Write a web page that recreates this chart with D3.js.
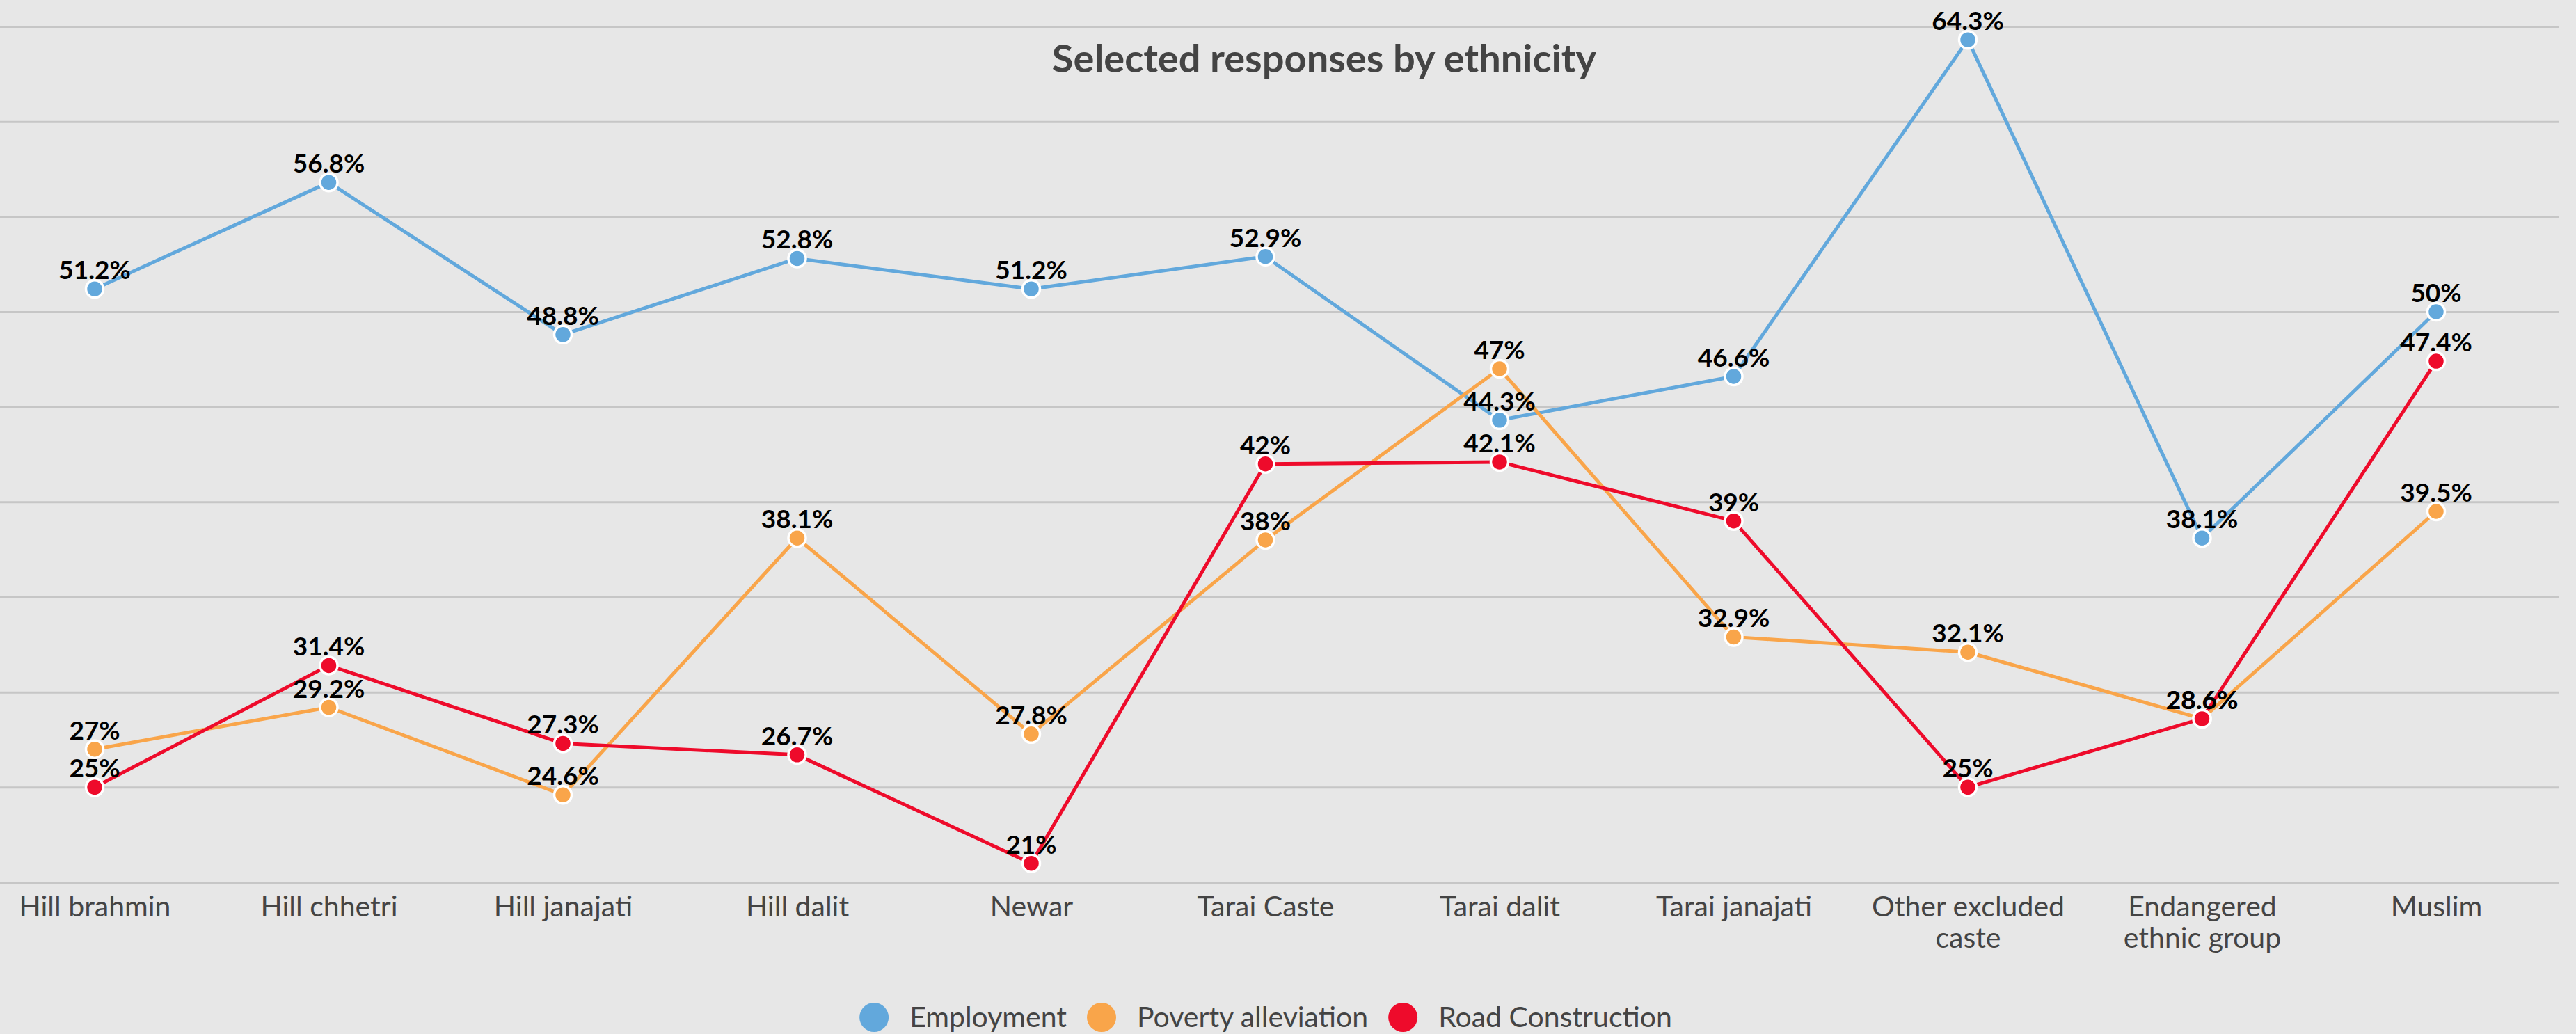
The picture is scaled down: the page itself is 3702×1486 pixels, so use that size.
<!DOCTYPE html>
<html><head><meta charset="utf-8">
<script src="https://cdn.jsdelivr.net/npm/d3@7"></script>
<style>html,body{margin:0;padding:0;background:#e7e7e7;}svg{display:block;}</style>
</head><body>
<svg id="chart" width="3702" height="1486"></svg>
<script>
const title = "Selected responses by ethnicity";
const categories = ["Hill brahmin","Hill chhetri","Hill janajati","Hill dalit","Newar","Tarai Caste","Tarai dalit","Tarai janajati","Other excluded caste","Endangered ethnic group","Muslim"];
const employment = [51.2,56.8,48.8,52.8,51.2,52.9,44.3,46.6,64.3,38.1,50];
const poverty = [27,29.2,24.6,38.1,27.8,38,47,32.9,32.1,28.6,39.5];
const road = [25,31.4,27.3,26.7,21,42,42.1,39,25,28.6,47.4];
const yTicks = [20,25,30,35,40,45,50,55,60,65];
const seriesNames = ["Employment","Poverty alleviation","Road Construction"];
const seriesColors = ["#62a8dc","#f9a54a","#ee0b2b"];

const W = 3702, H = 1486;
const svg = d3.select("#chart");
svg.append("rect").attr("width",W).attr("height",H).attr("fill","#e7e7e7");

const x = d3.scalePoint().domain(categories).range([136,3501]);
const y = d3.scaleLinear().domain([20,65]).range([1268,38]);

// gridlines
const gAxisY = svg.append("g")
  .call(d3.axisRight(y).tickValues(yTicks).tickSize(3677).tickFormat(""));
gAxisY.select(".domain").remove();
gAxisY.selectAll(".tick line").attr("stroke","#c6c6c6").attr("stroke-width",3);

// title
svg.append("text").attr("x",1903).attr("y",104).attr("text-anchor","middle")
  .attr("font-family","Lato, 'Open Sans', sans-serif").attr("font-weight",700)
  .attr("font-size",56).attr("fill","#444").text(title);

// x axis labels
const gx = svg.append("g").attr("transform","translate(0,1268)")
  .call(d3.axisBottom(x).tickSize(0).tickPadding(0));
gx.select(".domain").remove();
gx.selectAll(".tick text").remove();
gx.selectAll(".tick").each(function(d){
  const t = d3.select(this).append("text").attr("text-anchor","middle")
    .attr("font-family","Lato, 'Open Sans', sans-serif").attr("font-size",41)
    .attr("fill","#444").attr("y",49);
  const words = d.split(" ");
  let line = [];
  let tspan = t.append("tspan").attr("x",0).attr("dy",0);
  words.forEach(w=>{
    line.push(w);
    tspan.text(line.join(" "));
    if (tspan.node().getComputedTextLength() > 320 && line.length>1){
      line.pop(); tspan.text(line.join(" "));
      line=[w];
      tspan = t.append("tspan").attr("x",0).attr("dy",45).text(w);
    }
  });
});

const series = [employment, poverty, road];
const line = d3.line().x((d,i)=>x(categories[i])).y(d=>y(d));
series.forEach((vals,si)=>{
  const g = svg.append("g");
  g.append("path").datum(vals).attr("d",line).attr("fill","none")
    .attr("stroke",seriesColors[si]).attr("stroke-width",5).attr("stroke-linejoin","round");
  g.selectAll("circle").data(vals).join("circle")
    .attr("cx",(d,i)=>x(categories[i])).attr("cy",d=>y(d)).attr("r",12.5)
    .attr("fill",seriesColors[si]).attr("stroke","#fff").attr("stroke-width",3.5);
});
series.forEach((vals,si)=>{
  svg.append("g").selectAll("text").data(vals).join("text")
    .attr("x",(d,i)=>x(categories[i])).attr("y",d=>y(d)-14)
    .attr("text-anchor","middle").attr("font-family","Lato, 'Open Sans', sans-serif")
    .attr("font-weight",700).attr("font-size",37).attr("fill","#000")
    .text(d=>d+"%");
});

// legend
const legend = svg.append("g");
const items = legend.selectAll("g").data(seriesNames).join("g");
items.append("circle").attr("r",21).attr("cy",0).attr("fill",(d,i)=>seriesColors[i]);
items.append("text").attr("x",51).attr("y",14).attr("font-family","Lato, 'Open Sans', sans-serif")
  .attr("font-size",41).attr("fill","#444").text(d=>d);
const widths = [];
items.each(function(){ widths.push(this.querySelector("text").getComputedTextLength()); });
const total = widths.reduce((a,b)=>a+b+51+50,0)-50+21;
let start = 1819 - total/2 + 21;
items.attr("transform",(d,i)=>{ const t = `translate(${start},1462)`; start += widths[i]+51+50; return t; });
</script>
</body></html>
